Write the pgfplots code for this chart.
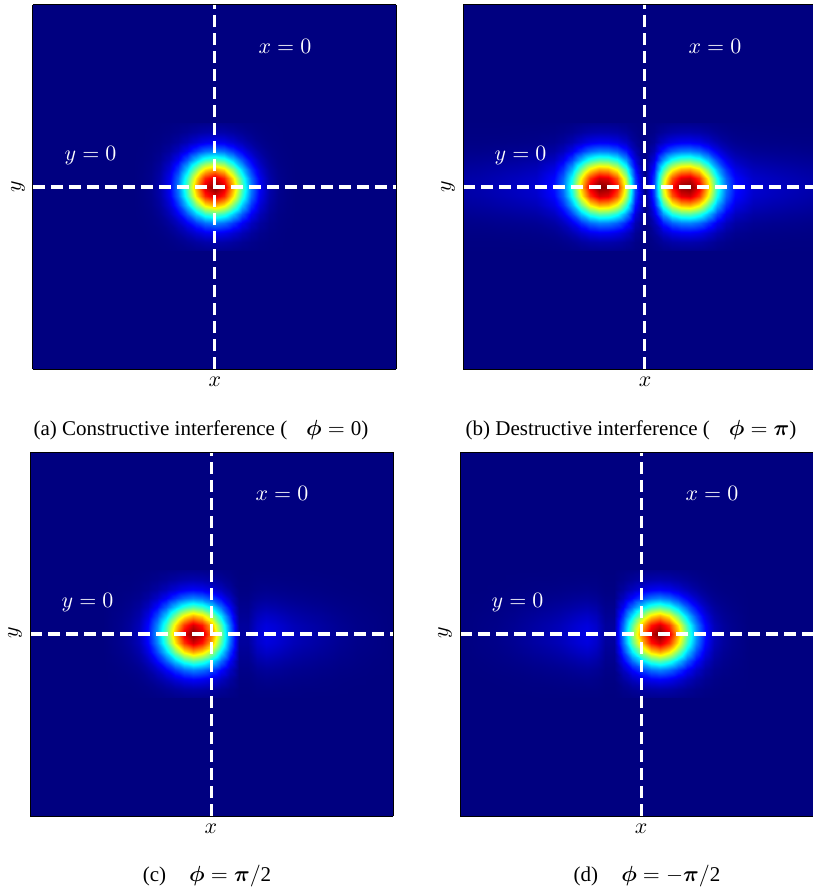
\documentclass[border=0pt]{standalone}
\usepackage[no-math]{fontspec}
\setmainfont{Liberation Serif}
\usepackage{bm}
\usepackage{pgfplots}
\usepackage{pgfplotstable}
\pgfplotsset{compat=1.18}
\definecolor{navy}{rgb}{0,0,0.5}

\pgfplotstableread{
x y a b c d
-10 -3.5 0 1 0 0
-9 -3.5 0 1 0 0
-8 -3.5 0 1 0 0
-7 -3.5 0 1 0 0
-6 -3.5 0 1 0 0
-5 -3.5 0 2 0 1
-4.5 -3.5 0 3 0 1
-4 -3.5 0 6 1 1
-3.5 -3.5 0 10 2 1
-3 -3.5 1 13 4 1
-2.5 -3.5 2 14 7 1
-2 -3.5 4 14 10 0
-1.5 -3.5 6 12 13 0
-1 -3.5 10 8 14 4
-0.5 -3.5 13 3 13 7
0 -3.5 14 0 11 11
0.5 -3.5 13 3 7 13
1 -3.5 10 8 4 14
1.5 -3.5 6 12 0 13
2 -3.5 4 14 0 10
2.5 -3.5 2 14 1 7
3 -3.5 1 13 1 4
3.5 -3.5 0 10 1 2
4 -3.5 0 6 1 1
4.5 -3.5 0 3 1 0
5 -3.5 0 2 1 0
6 -3.5 0 1 0 0
7 -3.5 0 1 0 0
8 -3.5 0 1 0 0
9 -3.5 0 1 0 0
10 -3.5 0 1 0 0
-10 -3 0 2 0 0
-9 -3 0 2 0 0
-8 -3 0 2 0 0
-7 -3 0 3 0 1
-6 -3 0 4 0 2
-5 -3 0 6 1 2
-4.5 -3 0 11 1 3
-4 -3 0 18 3 3
-3.5 -3 1 30 6 4
-3 -3 2 40 12 4
-2.5 -3 5 44 21 4
-2 -3 11 43 31 1
-1.5 -3 20 38 40 1
-1 -3 31 26 44 11
-0.5 -3 40 9 41 22
0 -3 44 0 33 33
0.5 -3 40 9 22 41
1 -3 31 26 11 44
1.5 -3 20 38 1 40
2 -3 11 43 1 31
2.5 -3 5 44 4 21
3 -3 2 40 4 12
3.5 -3 1 30 4 6
4 -3 0 18 3 3
4.5 -3 0 11 3 1
5 -3 0 6 2 1
6 -3 0 4 2 0
7 -3 0 3 1 0
8 -3 0 2 0 0
9 -3 0 2 0 0
10 -3 0 2 0 0
-10 -2.5 0 5 0 0
-9 -2.5 0 5 0 0
-8 -2.5 0 6 0 1
-7 -2.5 0 7 0 2
-6 -2.5 0 9 0 4
-5 -2.5 0 16 2 6
-4.5 -2.5 0 28 3 7
-4 -2.5 0 48 7 9
-3.5 -2.5 2 78 16 10
-3 -2.5 5 104 32 12
-2.5 -2.5 13 115 54 9
-2 -2.5 29 113 81 3
-1.5 -2.5 53 99 104 3
-1 -2.5 81 69 115 29
-0.5 -2.5 105 23 107 58
0 -2.5 115 0 86 86
0.5 -2.5 105 23 58 107
1 -2.5 81 69 29 115
1.5 -2.5 53 99 3 104
2 -2.5 29 113 3 81
2.5 -2.5 13 115 9 54
3 -2.5 5 104 12 32
3.5 -2.5 2 78 10 16
4 -2.5 0 48 9 7
4.5 -2.5 0 28 7 3
5 -2.5 0 16 6 2
6 -2.5 0 9 4 0
7 -2.5 0 7 2 0
8 -2.5 0 6 1 0
9 -2.5 0 5 0 0
10 -2.5 0 5 0 0
-10 -2 0 10 0 0
-9 -2 0 11 0 1
-8 -2 0 14 0 3
-7 -2 0 16 0 5
-6 -2 0 20 0 9
-5 -2 0 35 4 13
-4.5 -2 0 60 8 15
-4 -2 1 105 15 19
-3.5 -2 4 171 35 23
-3 -2 11 226 70 25
-2.5 -2 29 251 118 20
-2 -2 63 246 176 8
-1.5 -2 115 216 226 8
-1 -2 177 151 251 63
-0.5 -2 230 50 233 126
0 -2 251 0 188 188
0.5 -2 230 50 126 233
1 -2 177 151 63 251
1.5 -2 115 216 8 226
2 -2 63 246 8 176
2.5 -2 29 251 20 118
3 -2 11 226 25 70
3.5 -2 4 171 23 35
4 -2 1 105 19 15
4.5 -2 0 60 15 8
5 -2 0 35 13 4
6 -2 0 20 9 0
7 -2 0 16 5 0
8 -2 0 14 3 0
9 -2 0 11 1 0
10 -2 0 10 0 0
-10 -1.5 0 18 0 0
-9 -1.5 0 21 0 2
-8 -1.5 0 25 0 5
-7 -1.5 0 30 0 9
-6 -1.5 0 37 0 16
-5 -1.5 0 64 7 23
-4.5 -1.5 0 110 14 28
-4 -1.5 2 193 28 34
-3.5 -1.5 6 312 64 41
-3 -1.5 20 413 129 46
-2.5 -1.5 53 459 216 37
-2 -1.5 115 450 321 14
-1.5 -1.5 211 395 413 14
-1 -1.5 325 275 459 115
-0.5 -1.5 421 92 427 230
0 -1.5 459 0 344 344
0.5 -1.5 421 92 230 427
1 -1.5 325 275 115 459
1.5 -1.5 211 395 14 413
2 -1.5 115 450 14 321
2.5 -1.5 53 459 37 216
3 -1.5 20 413 46 129
3.5 -1.5 6 312 41 64
4 -1.5 2 193 34 28
4.5 -1.5 0 110 28 14
5 -1.5 0 64 23 7
6 -1.5 0 37 16 0
7 -1.5 0 30 9 0
8 -1.5 0 25 5 0
9 -1.5 0 21 2 0
10 -1.5 0 18 0 0
-10 -1 0 28 0 0
-9 -1 0 32 0 4
-8 -1 0 39 0 7
-7 -1 0 46 0 14
-6 -1 0 57 0 25
-5 -1 0 99 11 35
-4.5 -1 0 170 21 42
-4 -1 3 297 42 53
-3.5 -1 10 481 99 64
-3 -1 31 636 198 71
-2.5 -1 81 707 332 57
-2 -1 177 693 495 21
-1.5 -1 325 608 636 21
-1 -1 500 424 707 177
-0.5 -1 648 141 658 354
0 -1 707 0 530 530
0.5 -1 648 141 354 658
1 -1 500 424 177 707
1.5 -1 325 608 21 636
2 -1 177 693 21 495
2.5 -1 81 707 57 332
3 -1 31 636 71 198
3.5 -1 10 481 64 99
4 -1 3 297 53 42
4.5 -1 0 170 42 21
5 -1 0 99 35 11
6 -1 0 57 25 0
7 -1 0 46 14 0
8 -1 0 39 7 0
9 -1 0 32 4 0
10 -1 0 28 0 0
-10 -0.5 0 37 0 0
-9 -0.5 0 41 0 5
-8 -0.5 0 50 0 9
-7 -0.5 0 60 0 18
-6 -0.5 0 73 0 32
-5 -0.5 0 128 14 46
-4.5 -0.5 0 220 28 55
-4 -0.5 4 385 55 69
-3.5 -0.5 13 624 128 83
-3 -0.5 40 825 257 92
-2.5 -0.5 105 917 431 73
-2 -0.5 230 899 642 28
-1.5 -0.5 421 789 825 28
-1 -0.5 648 550 917 229
-0.5 -0.5 841 183 853 459
0 -0.5 917 0 688 688
0.5 -0.5 841 183 459 853
1 -0.5 648 550 229 917
1.5 -0.5 421 789 28 825
2 -0.5 230 899 28 642
2.5 -0.5 105 917 73 431
3 -0.5 40 825 92 257
3.5 -0.5 13 624 83 128
4 -0.5 4 385 69 55
4.5 -0.5 0 220 55 28
5 -0.5 0 128 46 14
6 -0.5 0 73 32 0
7 -0.5 0 60 18 0
8 -0.5 0 50 9 0
9 -0.5 0 41 5 0
10 -0.5 0 37 0 0
-10 0 0 40 0 0
-9 0 0 45 0 5
-8 0 0 55 0 10
-7 0 0 65 0 20
-6 0 0 80 0 35
-5 0 0 140 15 50
-4.5 0 0 240 30 60
-4 0 4 420 60 75
-3.5 0 14 680 140 90
-3 0 44 900 280 100
-2.5 0 115 1000 470 80
-2 0 251 980 700 30
-1.5 0 459 860 900 30
-1 0 707 600 1000 250
-0.5 0 917 200 930 500
0 0 1000 0 750 750
0.5 0 917 200 500 930
1 0 707 600 250 1000
1.5 0 459 860 30 900
2 0 251 980 30 700
2.5 0 115 1000 80 470
3 0 44 900 100 280
3.5 0 14 680 90 140
4 0 4 420 75 60
4.5 0 0 240 60 30
5 0 0 140 50 15
6 0 0 80 35 0
7 0 0 65 20 0
8 0 0 55 10 0
9 0 0 45 5 0
10 0 0 40 0 0
-10 0.5 0 37 0 0
-9 0.5 0 41 0 5
-8 0.5 0 50 0 9
-7 0.5 0 60 0 18
-6 0.5 0 73 0 32
-5 0.5 0 128 14 46
-4.5 0.5 0 220 28 55
-4 0.5 4 385 55 69
-3.5 0.5 13 624 128 83
-3 0.5 40 825 257 92
-2.5 0.5 105 917 431 73
-2 0.5 230 899 642 28
-1.5 0.5 421 789 825 28
-1 0.5 648 550 917 229
-0.5 0.5 841 183 853 459
0 0.5 917 0 688 688
0.5 0.5 841 183 459 853
1 0.5 648 550 229 917
1.5 0.5 421 789 28 825
2 0.5 230 899 28 642
2.5 0.5 105 917 73 431
3 0.5 40 825 92 257
3.5 0.5 13 624 83 128
4 0.5 4 385 69 55
4.5 0.5 0 220 55 28
5 0.5 0 128 46 14
6 0.5 0 73 32 0
7 0.5 0 60 18 0
8 0.5 0 50 9 0
9 0.5 0 41 5 0
10 0.5 0 37 0 0
-10 1 0 28 0 0
-9 1 0 32 0 4
-8 1 0 39 0 7
-7 1 0 46 0 14
-6 1 0 57 0 25
-5 1 0 99 11 35
-4.5 1 0 170 21 42
-4 1 3 297 42 53
-3.5 1 10 481 99 64
-3 1 31 636 198 71
-2.5 1 81 707 332 57
-2 1 177 693 495 21
-1.5 1 325 608 636 21
-1 1 500 424 707 177
-0.5 1 648 141 658 354
0 1 707 0 530 530
0.5 1 648 141 354 658
1 1 500 424 177 707
1.5 1 325 608 21 636
2 1 177 693 21 495
2.5 1 81 707 57 332
3 1 31 636 71 198
3.5 1 10 481 64 99
4 1 3 297 53 42
4.5 1 0 170 42 21
5 1 0 99 35 11
6 1 0 57 25 0
7 1 0 46 14 0
8 1 0 39 7 0
9 1 0 32 4 0
10 1 0 28 0 0
-10 1.5 0 18 0 0
-9 1.5 0 21 0 2
-8 1.5 0 25 0 5
-7 1.5 0 30 0 9
-6 1.5 0 37 0 16
-5 1.5 0 64 7 23
-4.5 1.5 0 110 14 28
-4 1.5 2 193 28 34
-3.5 1.5 6 312 64 41
-3 1.5 20 413 129 46
-2.5 1.5 53 459 216 37
-2 1.5 115 450 321 14
-1.5 1.5 211 395 413 14
-1 1.5 325 275 459 115
-0.5 1.5 421 92 427 230
0 1.5 459 0 344 344
0.5 1.5 421 92 230 427
1 1.5 325 275 115 459
1.5 1.5 211 395 14 413
2 1.5 115 450 14 321
2.5 1.5 53 459 37 216
3 1.5 20 413 46 129
3.5 1.5 6 312 41 64
4 1.5 2 193 34 28
4.5 1.5 0 110 28 14
5 1.5 0 64 23 7
6 1.5 0 37 16 0
7 1.5 0 30 9 0
8 1.5 0 25 5 0
9 1.5 0 21 2 0
10 1.5 0 18 0 0
-10 2 0 10 0 0
-9 2 0 11 0 1
-8 2 0 14 0 3
-7 2 0 16 0 5
-6 2 0 20 0 9
-5 2 0 35 4 13
-4.5 2 0 60 8 15
-4 2 1 105 15 19
-3.5 2 4 171 35 23
-3 2 11 226 70 25
-2.5 2 29 251 118 20
-2 2 63 246 176 8
-1.5 2 115 216 226 8
-1 2 177 151 251 63
-0.5 2 230 50 233 126
0 2 251 0 188 188
0.5 2 230 50 126 233
1 2 177 151 63 251
1.5 2 115 216 8 226
2 2 63 246 8 176
2.5 2 29 251 20 118
3 2 11 226 25 70
3.5 2 4 171 23 35
4 2 1 105 19 15
4.5 2 0 60 15 8
5 2 0 35 13 4
6 2 0 20 9 0
7 2 0 16 5 0
8 2 0 14 3 0
9 2 0 11 1 0
10 2 0 10 0 0
-10 2.5 0 5 0 0
-9 2.5 0 5 0 0
-8 2.5 0 6 0 1
-7 2.5 0 7 0 2
-6 2.5 0 9 0 4
-5 2.5 0 16 2 6
-4.5 2.5 0 28 3 7
-4 2.5 0 48 7 9
-3.5 2.5 2 78 16 10
-3 2.5 5 104 32 12
-2.5 2.5 13 115 54 9
-2 2.5 29 113 81 3
-1.5 2.5 53 99 104 3
-1 2.5 81 69 115 29
-0.5 2.5 105 23 107 58
0 2.5 115 0 86 86
0.5 2.5 105 23 58 107
1 2.5 81 69 29 115
1.5 2.5 53 99 3 104
2 2.5 29 113 3 81
2.5 2.5 13 115 9 54
3 2.5 5 104 12 32
3.5 2.5 2 78 10 16
4 2.5 0 48 9 7
4.5 2.5 0 28 7 3
5 2.5 0 16 6 2
6 2.5 0 9 4 0
7 2.5 0 7 2 0
8 2.5 0 6 1 0
9 2.5 0 5 0 0
10 2.5 0 5 0 0
-10 3 0 2 0 0
-9 3 0 2 0 0
-8 3 0 2 0 0
-7 3 0 3 0 1
-6 3 0 4 0 2
-5 3 0 6 1 2
-4.5 3 0 11 1 3
-4 3 0 18 3 3
-3.5 3 1 30 6 4
-3 3 2 40 12 4
-2.5 3 5 44 21 4
-2 3 11 43 31 1
-1.5 3 20 38 40 1
-1 3 31 26 44 11
-0.5 3 40 9 41 22
0 3 44 0 33 33
0.5 3 40 9 22 41
1 3 31 26 11 44
1.5 3 20 38 1 40
2 3 11 43 1 31
2.5 3 5 44 4 21
3 3 2 40 4 12
3.5 3 1 30 4 6
4 3 0 18 3 3
4.5 3 0 11 3 1
5 3 0 6 2 1
6 3 0 4 2 0
7 3 0 3 1 0
8 3 0 2 0 0
9 3 0 2 0 0
10 3 0 2 0 0
-10 3.5 0 1 0 0
-9 3.5 0 1 0 0
-8 3.5 0 1 0 0
-7 3.5 0 1 0 0
-6 3.5 0 1 0 0
-5 3.5 0 2 0 1
-4.5 3.5 0 3 0 1
-4 3.5 0 6 1 1
-3.5 3.5 0 10 2 1
-3 3.5 1 13 4 1
-2.5 3.5 2 14 7 1
-2 3.5 4 14 10 0
-1.5 3.5 6 12 13 0
-1 3.5 10 8 14 4
-0.5 3.5 13 3 13 7
0 3.5 14 0 11 11
0.5 3.5 13 3 7 13
1 3.5 10 8 4 14
1.5 3.5 6 12 0 13
2 3.5 4 14 0 10
2.5 3.5 2 14 1 7
3 3.5 1 13 1 4
3.5 3.5 0 10 1 2
4 3.5 0 6 1 1
4.5 3.5 0 3 1 0
5 3.5 0 2 1 0
6 3.5 0 1 0 0
7 3.5 0 1 0 0
8 3.5 0 1 0 0
9 3.5 0 1 0 0
10 3.5 0 1 0 0
}\field

\tikzset{
  guide/.style={white, line width=1.65pt, dash pattern=on 6pt off 3pt},
  lab/.style={white, font=\fontsize{11}{13}\selectfont},
}
\pgfplotsset{
  panel/.style={
    anchor=north west, scale only axis, width=181.5pt, height=182pt,
    xmin=-10, xmax=10, ymin=-10, ymax=10, zmin=0, zmax=1000,
    view={0}{90},
    colormap/jet, point meta min=0, point meta max=1000,
    xtick=\empty, ytick=\empty, ztick=\empty,
    axis background/.style={fill=navy},
    axis on top, axis line style={black, line width=0.5pt},
  },
  surfp/.style={surf, shader=interp, mesh/cols=31, point meta=z},
}
\newcommand\guides{%
  \addplot3[guide] coordinates {(0,-10,1000) (0,10,1000)};
  \addplot3[guide] coordinates {(-10,0,1000) (10,0,1000)};
  \node[lab] at (axis cs:3.88,7.75,1000) {$x = 0$};
  \node[lab] at (axis cs:-6.83,1.7,1000) {$y = 0$};
}

\begin{document}
\begin{tikzpicture}
\begin{axis}[panel, at={(16.5pt,-2.5pt)}]
\addplot3[surfp] table[x=x, y=y, z=a] {\field};
\guides
\end{axis}
\begin{axis}[panel, at={(231.5pt,-2.5pt)}]
\addplot3[surfp] table[x=x, y=y, z=b] {\field};
\guides
\end{axis}
\begin{axis}[panel, at={(15pt,-226pt)}]
\addplot3[surfp] table[x=x, y=y, z=c] {\field};
\guides
\end{axis}
\begin{axis}[panel, at={(230pt,-226pt)}]
\addplot3[surfp] table[x=x, y=y, z=d] {\field};
\guides
\end{axis}
% axis labels
\begin{scope}[every node/.style={font=\fontsize{11}{13}\selectfont}]
\node at (107.5pt,-191pt) {$x$};
\node[rotate=90] at (9pt,-93.5pt) {$y$};
\node at (322.5pt,-191pt) {$x$};
\node[rotate=90] at (224pt,-93.5pt) {$y$};
\node at (105.5pt,-414.5pt) {$x$};
\node[rotate=90] at (7.5pt,-316.5pt) {$y$};
\node at (320.5pt,-414.5pt) {$x$};
\node[rotate=90] at (222.5pt,-316.5pt) {$y$};
\end{scope}
% captions
\begin{scope}[every node/.style={font=\fontsize{10.5}{12}\selectfont}]
\node at (100.5pt,-215pt) {(a) Constructive interference (\hspace{0.9em}$\bm{\phi} = \mbox{0}$)};
\node at (315.5pt,-215pt) {(b) Destructive interference (\hspace{0.9em}$\bm{\phi} = \bm{\pi}$)};
\node at (103.5pt,-438pt) {(c)\hspace{1.1em}$\bm{\phi} = \bm{\pi}/\mbox{2}$};
\node at (323.5pt,-438pt) {(d)\hspace{1.1em}$\bm{\phi} = -\bm{\pi}/\mbox{2}$};
\end{scope}
\pgfresetboundingbox
\path[use as bounding box] (0pt,0pt) rectangle (406.5pt,-444pt);
\end{tikzpicture}
\end{document}
